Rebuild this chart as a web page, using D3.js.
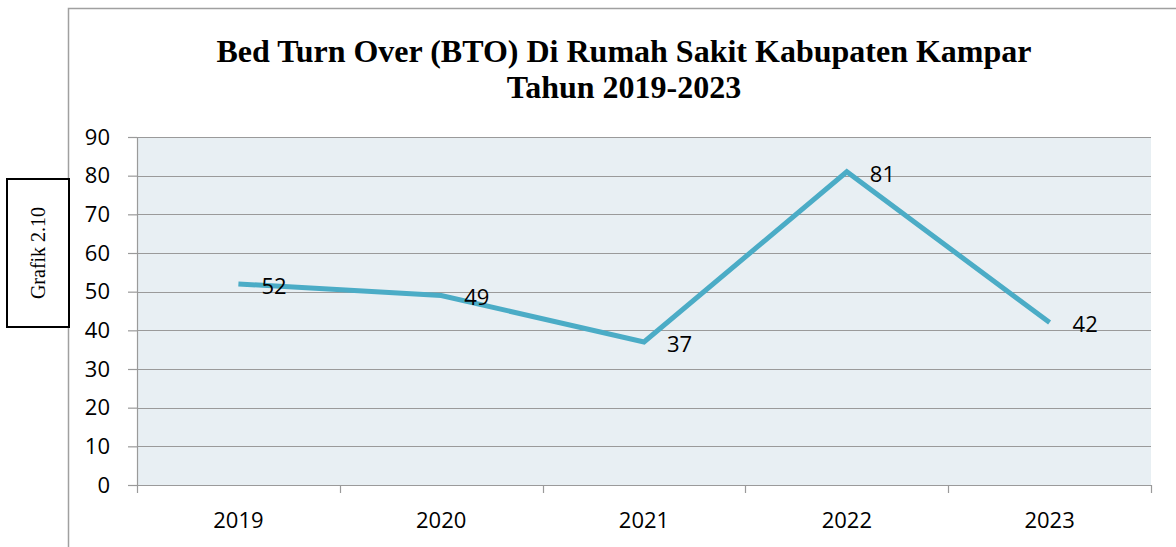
<!DOCTYPE html>
<html>
<head>
<meta charset="utf-8">
<script src="https://cdn.jsdelivr.net/npm/d3@7"></script>
<style>
  body { margin: 0; background: #fff; }
  svg { display: block; }
</style>
</head>
<body>
<div id="chart"></div>
<script>
const years = ['2019', '2020', '2021', '2022', '2023'];
const bto = [52, 49, 37, 81, 42];
const yTicks = [0, 10, 20, 30, 40, 50, 60, 70, 80, 90];
const titleLines = ['Bed Turn Over (BTO) Di Rumah Sakit Kabupaten Kampar', 'Tahun 2019-2023'];

const W = 1176, H = 547;
const margin = { top: 137, right: 25, bottom: 62, left: 137 },
    width = W - margin.left - margin.right,
    height = H - margin.top - margin.bottom;

const svg = d3.select('#chart').append('svg')
    .attr('width', W)
    .attr('height', H);

// outer chart border, runs off the right and bottom edges
svg.append('rect')
    .attr('x', 68.5).attr('y', 8.5)
    .attr('width', W).attr('height', H)
    .attr('fill', 'none')
    .attr('stroke', '#a0a0a0')
    .attr('stroke-width', 1.5);

// "Grafik 2.10" side box
svg.append('rect')
    .attr('x', 7).attr('y', 179)
    .attr('width', 62).attr('height', 148)
    .attr('fill', '#fff')
    .attr('stroke', '#000')
    .attr('stroke-width', 2);

svg.append('text')
    .attr('transform', 'translate(45,253) rotate(-90)')
    .attr('text-anchor', 'middle')
    .style('font-family', '"Liberation Serif", "Times New Roman", serif')
    .style('font-size', '20px')
    .text('Grafik 2.10');

svg.append('g').selectAll('text')
    .data(titleLines)
    .join('text')
    .attr('x', 624)
    .attr('y', (d, i) => 62 + i * 36)
    .attr('text-anchor', 'middle')
    .style('font-family', '"Liberation Serif", "Times New Roman", serif')
    .style('font-weight', 'bold')
    .style('font-size', '32px')
    .text(d => d);

const g = svg.append('g')
    .attr('transform', 'translate(' + margin.left + ',' + margin.top + ')');

const xScale = d3.scaleBand().domain(years).range([0, width]);
const yScale = d3.scaleLinear().domain([0, 90]).range([height, 0]);

g.append('rect')
    .attr('width', width)
    .attr('height', height)
    .attr('fill', '#e8eff3');

// horizontal gridlines
g.append('g').selectAll('line')
    .data(yTicks.filter(d => d > 0))
    .join('line')
    .attr('x1', 0).attr('x2', width)
    .attr('y1', d => Math.round(yScale(d)) + 0.5)
    .attr('y2', d => Math.round(yScale(d)) + 0.5)
    .attr('stroke', '#9a9a9a')
    .attr('stroke-width', 1.2);

const yAxis = d3.axisLeft(yScale)
    .tickValues(yTicks)
    .tickSize(9)
    .tickPadding(18);

const yG = g.append('g').call(yAxis);

const xAxis = d3.axisBottom(xScale).tickSize(0).tickPadding(27);
const xG = g.append('g')
    .attr('transform', 'translate(0,' + height + ')')
    .call(xAxis);

// tick marks at category boundaries
xG.append('g').selectAll('line')
    .data(d3.range(years.length + 1))
    .join('line')
    .attr('x1', i => Math.round(i * xScale.bandwidth()) + 0.5)
    .attr('x2', i => Math.round(i * xScale.bandwidth()) + 0.5)
    .attr('y1', 0).attr('y2', 8)
    .attr('stroke', '#9a9a9a')
    .attr('stroke-width', 1.2);

[yG, xG].forEach(ax => {
    ax.selectAll('.domain').attr('stroke', '#9a9a9a').attr('stroke-width', 1.2);
    ax.selectAll('.tick line').attr('stroke', '#9a9a9a').attr('stroke-width', 1.2);
    ax.selectAll('text')
        .attr('fill', '#000')
        .style('font-family', '"Open Sans", "Noto Sans", sans-serif')
        .style('font-size', '22px');
});

const line = d3.line()
    .x((d, i) => xScale(years[i]) + xScale.bandwidth() / 2)
    .y(d => yScale(d));

g.append('path')
    .datum(bto)
    .attr('fill', 'none')
    .attr('stroke', '#4bacc6')
    .attr('stroke-width', 5)
    .attr('stroke-linejoin', 'miter')
    .attr('d', line);

g.append('g').selectAll('text')
    .data(bto)
    .join('text')
    .attr('x', (d, i) => xScale(years[i]) + xScale.bandwidth() / 2 + 23)
    .attr('y', d => yScale(d) + 2)
    .attr('dy', '0.35em')
    .style('font-family', '"Open Sans", "Noto Sans", sans-serif')
    .style('font-size', '22px')
    .text(d => d);
</script>
</body>
</html>
